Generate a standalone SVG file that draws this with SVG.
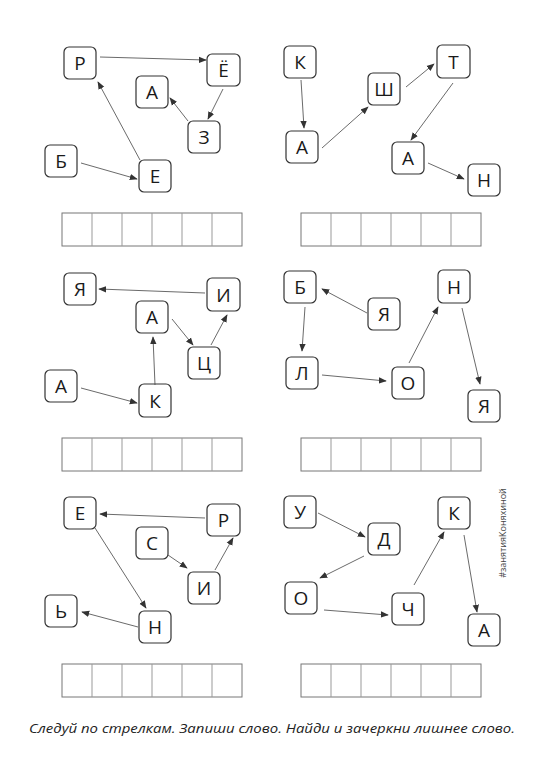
<svg xmlns="http://www.w3.org/2000/svg" width="543" height="768" viewBox="0 0 543 768">
<style>
.n rect{fill:#fff;stroke:#333;stroke-width:1.2}
.n text{font-family:"Open Sans","Noto Sans","Liberation Sans",sans-serif;font-size:19px;fill:#1a1a1a;text-anchor:middle;dominant-baseline:central}
.c line{stroke:#444;stroke-width:0.8;marker-end:url(#ah)}
</style>
<defs>
<marker id="ah" viewBox="0 0 10 10" refX="9" refY="5" markerWidth="8" markerHeight="8" markerUnits="userSpaceOnUse" orient="auto">
<path d="M0,1 L10,5 L0,9 Z" fill="#333"/>
</marker>
<g id="cellrow" fill="none" stroke="#777" stroke-width="1">
<rect x="0" y="0" width="180" height="33" fill="#fff"/>
<path d="M30,0V33M60,0V33M90,0V33M120,0V33M150,0V33" stroke="#999"/>
</g>
</defs>
<rect width="543" height="768" fill="#fff"/>

<!-- Panel 1 -->
<g id="p1-R" class="n"><rect x="64" y="47" width="32" height="32" rx="5"/><text x="80" y="63">Р</text></g>
<g id="p1-Yo" class="n"><rect x="207" y="54" width="33" height="32" rx="5"/><text x="223.5" y="70">Ё</text></g>
<g id="p1-A" class="n"><rect x="136" y="76" width="32" height="32" rx="5"/><text x="152" y="92">А</text></g>
<g id="p1-Z" class="n"><rect x="188" y="121" width="32" height="32" rx="5"/><text x="204" y="137">З</text></g>
<g id="p1-B" class="n"><rect x="45" y="145" width="32" height="32" rx="5"/><text x="61" y="161">Б</text></g>
<g id="p1-E" class="n"><rect x="139" y="160" width="32" height="32" rx="5"/><text x="155" y="176">Е</text></g>

<!-- Panel 2 -->
<g id="p2-K" class="n"><rect x="284" y="46" width="32" height="32" rx="5"/><text x="300" y="62">К</text></g>
<g id="p2-Sh" class="n"><rect x="368" y="73" width="32" height="32" rx="5"/><text x="384" y="89">Ш</text></g>
<g id="p2-T" class="n"><rect x="437" y="45" width="33" height="33" rx="5"/><text x="453.5" y="61.5">Т</text></g>
<g id="p2-A1" class="n"><rect x="286" y="131" width="32" height="32" rx="5"/><text x="302" y="147">А</text></g>
<g id="p2-A2" class="n"><rect x="392" y="142" width="32" height="32" rx="5"/><text x="408" y="158">А</text></g>
<g id="p2-N" class="n"><rect x="468" y="164" width="32" height="32" rx="5"/><text x="484" y="180">Н</text></g>

<!-- Panel 3 -->
<g id="p3-Ya" class="n"><rect x="64" y="273" width="32" height="32" rx="5"/><text x="80" y="289">Я</text></g>
<g id="p3-I" class="n"><rect x="207" y="278" width="33" height="33" rx="5"/><text x="223.5" y="294.5">И</text></g>
<g id="p3-A1" class="n"><rect x="136" y="301" width="32" height="32" rx="5"/><text x="152" y="317">А</text></g>
<g id="p3-Ts" class="n"><rect x="188" y="347" width="32" height="32" rx="5"/><text x="204" y="363">Ц</text></g>
<g id="p3-A2" class="n"><rect x="45" y="370" width="32" height="32" rx="5"/><text x="61" y="386">А</text></g>
<g id="p3-K" class="n"><rect x="139" y="384" width="32" height="33" rx="5"/><text x="155" y="400.5">К</text></g>

<!-- Panel 4 -->
<g id="p4-B" class="n"><rect x="284" y="271" width="32" height="32" rx="5"/><text x="300" y="287">Б</text></g>
<g id="p4-Ya1" class="n"><rect x="368" y="298" width="32" height="32" rx="5"/><text x="384" y="314">Я</text></g>
<g id="p4-N" class="n"><rect x="438" y="270" width="32" height="33" rx="5"/><text x="454" y="286.5">Н</text></g>
<g id="p4-L" class="n"><rect x="286" y="357" width="32" height="32" rx="5"/><text x="302" y="373">Л</text></g>
<g id="p4-O" class="n"><rect x="392" y="367" width="32" height="32" rx="5"/><text x="408" y="383">О</text></g>
<g id="p4-Ya2" class="n"><rect x="468" y="390" width="32" height="32" rx="5"/><text x="484" y="406">Я</text></g>

<!-- Panel 5 -->
<g id="p5-E" class="n"><rect x="64" y="497" width="32" height="32" rx="5"/><text x="80" y="513">Е</text></g>
<g id="p5-R" class="n"><rect x="207" y="504" width="33" height="32" rx="5"/><text x="223.5" y="520">Р</text></g>
<g id="p5-S" class="n"><rect x="136" y="527" width="32" height="32" rx="5"/><text x="152" y="543">С</text></g>
<g id="p5-I" class="n"><rect x="188" y="572" width="32" height="32" rx="5"/><text x="204" y="588">И</text></g>
<g id="p5-Soft" class="n"><rect x="45" y="595" width="32" height="32" rx="5"/><text x="61" y="611">Ь</text></g>
<g id="p5-N" class="n"><rect x="139" y="611" width="32" height="32" rx="5"/><text x="155" y="627">Н</text></g>

<!-- Panel 6 -->
<g id="p6-U" class="n"><rect x="284" y="496" width="32" height="32" rx="5"/><text x="300" y="512">У</text></g>
<g id="p6-D" class="n"><rect x="368" y="523" width="32" height="32" rx="5"/><text x="384" y="539">Д</text></g>
<g id="p6-K" class="n"><rect x="438" y="497" width="32" height="32" rx="5"/><text x="454" y="513">К</text></g>
<g id="p6-O" class="n"><rect x="285" y="582" width="32" height="32" rx="5"/><text x="301" y="598">О</text></g>
<g id="p6-Ch" class="n"><rect x="392" y="593" width="32" height="32" rx="5"/><text x="408" y="609">Ч</text></g>
<g id="p6-A" class="n"><rect x="468" y="614" width="32" height="32" rx="5"/><text x="484" y="630">А</text></g>

<g id="connectors" class="c">
<!-- Panel 1 -->
<line x1="100" y1="57" x2="206" y2="60"/>
<line x1="223" y1="89" x2="208" y2="119"/>
<line x1="188" y1="121" x2="170" y2="98"/>
<line x1="140" y1="160" x2="98" y2="82"/>
<line x1="81" y1="163" x2="137" y2="179"/>
<!-- Panel 2 -->
<line x1="301" y1="80" x2="304" y2="128"/>
<line x1="322" y1="148" x2="368" y2="107"/>
<line x1="406" y1="87" x2="434" y2="64"/>
<line x1="453" y1="83" x2="411" y2="140"/>
<line x1="428" y1="163" x2="464" y2="179"/>
<!-- Panel 3 -->
<line x1="205" y1="293" x2="99" y2="289"/>
<line x1="172" y1="319" x2="193" y2="345"/>
<line x1="211" y1="345" x2="227" y2="315"/>
<line x1="155" y1="385" x2="153" y2="337"/>
<line x1="81" y1="388" x2="137" y2="403"/>
<!-- Panel 4 -->
<line x1="367" y1="313" x2="322" y2="289"/>
<line x1="305" y1="307" x2="302" y2="351"/>
<line x1="322" y1="375" x2="386" y2="381"/>
<line x1="409" y1="363" x2="438" y2="307"/>
<line x1="462" y1="308" x2="480" y2="384"/>
<!-- Panel 5 -->
<line x1="205" y1="518" x2="100" y2="514"/>
<line x1="95" y1="528" x2="146" y2="608"/>
<line x1="168" y1="555" x2="187" y2="568"/>
<line x1="215" y1="570" x2="233" y2="538"/>
<line x1="138" y1="627" x2="82" y2="612"/>
<!-- Panel 6 -->
<line x1="318" y1="513" x2="365" y2="537"/>
<line x1="364" y1="556" x2="320" y2="578"/>
<line x1="324" y1="610" x2="388" y2="615"/>
<line x1="414" y1="585" x2="444" y2="532"/>
<line x1="464" y1="535" x2="477" y2="612"/>
</g>

<g id="answer-cells">
<use href="#cellrow" x="62" y="213"/>
<use href="#cellrow" x="301" y="213"/>
<use href="#cellrow" x="62" y="438"/>
<use href="#cellrow" x="301" y="438"/>
<use href="#cellrow" x="62" y="664"/>
<use href="#cellrow" x="301" y="664"/>
</g>

<text id="hashtag" transform="translate(506,533) rotate(-90)" font-family="'Open Sans','Noto Sans','Liberation Sans',sans-serif" font-size="9" fill="#444" text-anchor="middle">#занятияКоняхиной</text>

<text id="instruction" x="272" y="733" font-family="'Open Sans','Noto Sans','Liberation Sans',sans-serif" font-size="13.5" font-style="italic" fill="#222" text-anchor="middle" textLength="486" lengthAdjust="spacingAndGlyphs">Следуй по стрелкам. Запиши слово. Найди и зачеркни лишнее слово.</text>
</svg>
